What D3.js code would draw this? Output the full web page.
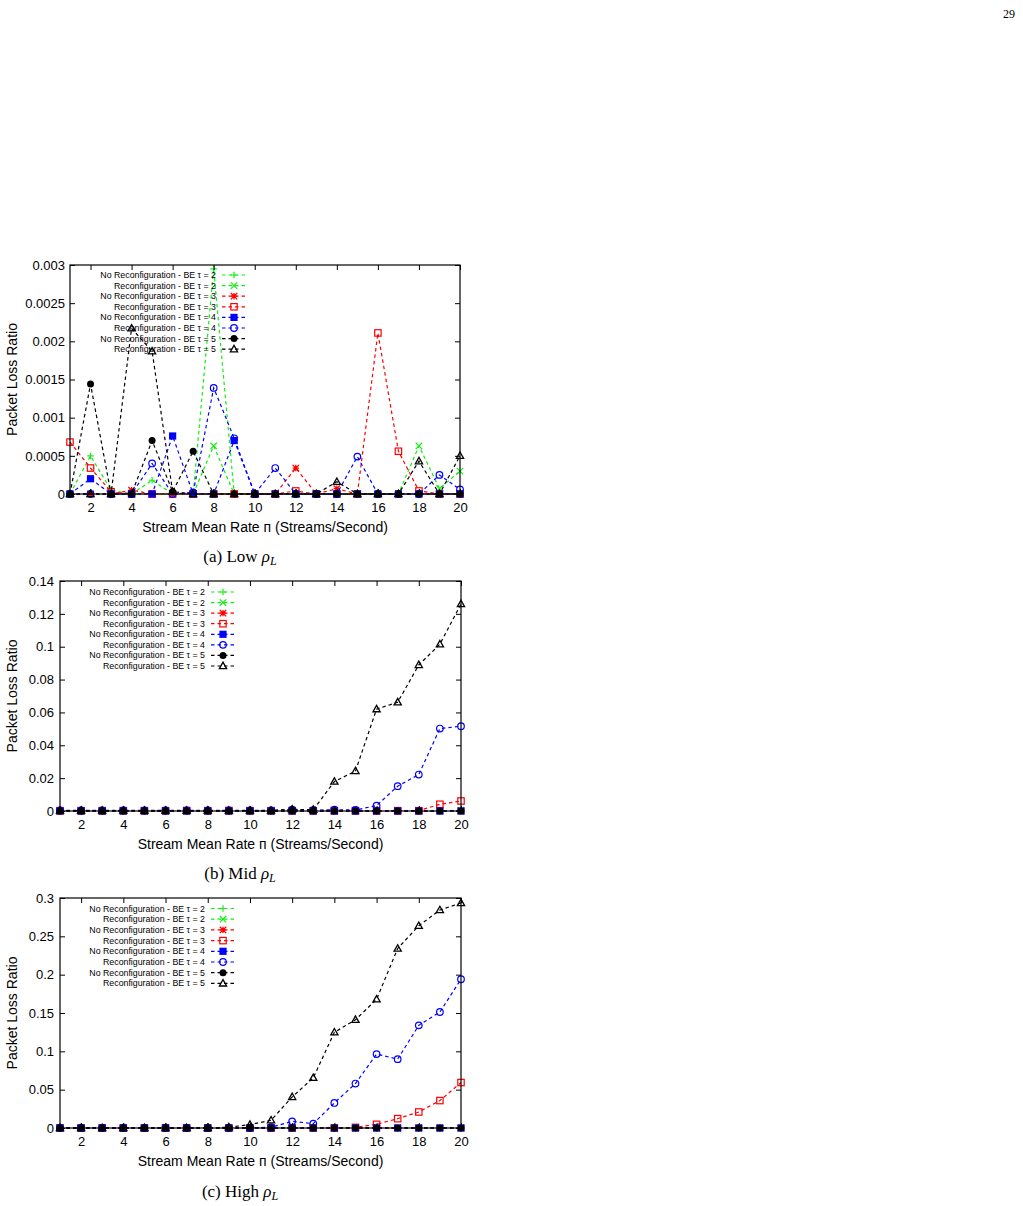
<!DOCTYPE html>
<html><head><meta charset="utf-8">
<script src="https://cdn.jsdelivr.net/npm/d3@7"></script>
<style>body{margin:0;background:#fff}svg{display:block}</style>
</head><body>
<script>
// ---------- DATA ----------
const rates = [1,2,3,4,5,6,7,8,9,10,11,12,13,14,15,16,17,18,19,20];
const xTicks = [2,4,6,8,10,12,14,16,18,20];

const seriesNames = [
  "No Reconfiguration - BE \u03c4 = 2",
  "Reconfiguration - BE \u03c4 = 2",
  "No Reconfiguration - BE \u03c4 = 3",
  "Reconfiguration - BE \u03c4 = 3",
  "No Reconfiguration - BE \u03c4 = 4",
  "Reconfiguration - BE \u03c4 = 4",
  "No Reconfiguration - BE \u03c4 = 5",
  "Reconfiguration - BE \u03c4 = 5"
];

// (a) Low rho_L
const lowNoReconfT2 = [0,0.0005,0.00005,0,0.00018,0,0,0.00295,0,0,0,0,0,0,0,0,0,0,0,0];
const lowReconfT2   = [0,0,0,0,0,0,0,0.00063,0,0,0,0,0,0,0,0,0,0.00063,0.00007,0.0003];
const lowNoReconfT3 = [0,0,0,0.00005,0,0,0,0,0,0,0,0.00034,0,0.00007,0,0,0,0,0,0];
const lowReconfT3   = [0.00068,0.00034,0.00003,0,0,0,0,0,0,0,0,0.00004,0,0,0,0.00211,0.00056,0.00004,0,0];
const lowNoReconfT4 = [0,0.0002,0,0,0,0.00076,0,0,0.0007,0,0,0,0,0,0,0,0,0,0,0];
const lowReconfT4   = [0,0,0,0,0.0004,0,0.00002,0.00139,0.00073,0,0.00034,0,0,0,0.00049,0,0,0,0.00025,0.00006];
const lowNoReconfT5 = [0,0.00144,0,0,0.0007,0.00003,0.00056,0,0,0,0,0,0,0,0,0,0,0,0,0];
const lowReconfT5   = [0,0,0,0.00217,0.00187,0.00003,0,0,0,0,0,0,0,0.00016,0,0,0,0.00043,0,0.0005];
const lowYTicks = [0,0.0005,0.001,0.0015,0.002,0.0025,0.003];
const lowYLabels = ["0","0.0005","0.001","0.0015","0.002","0.0025","0.003"];

// (b) Mid rho_L
const midNoReconfT2 = [0,0,0,0,0,0,0,0,0,0,0,0,0,0,0,0,0,0,0,0];
const midReconfT2   = [0,0,0,0,0,0,0,0,0,0,0,0,0,0,0,0,0,0,0,0.0005];
const midNoReconfT3 = [0,0,0,0,0,0,0,0,0,0,0,0,0,0,0,0,0,0,0,0];
const midReconfT3   = [0.0002,0.0002,0.0002,0.0002,0.0002,0.0002,0.0003,0.0002,0.0003,0.0002,0.0002,0.0002,0.0002,0.0002,0.0002,0.0002,0.0002,0.0002,0.0041,0.0061];
const midNoReconfT4 = [0,0,0,0,0,0,0,0,0,0,0,0,0,0,0,0,0,0,0,0];
const midReconfT4   = [0.0004,0.0004,0.0004,0.0004,0.0004,0.0004,0.0004,0.0004,0.0004,0.0004,0.0004,0.0008,0.0005,0.0008,0.0006,0.0033,0.0151,0.0222,0.0502,0.0516];
const midNoReconfT5 = [0,0,0,0,0,0,0,0,0,0,0,0,0,0,0,0,0,0,0,0];
const midReconfT5   = [0.0003,0.0003,0.0003,0.0003,0.0003,0.0003,0.0003,0.0003,0.0003,0.0003,0.0003,0.001,0.0008,0.0179,0.0243,0.062,0.0662,0.0889,0.1015,0.126];
const midYTicks = [0,0.02,0.04,0.06,0.08,0.1,0.12,0.14];
const midYLabels = ["0","0.02","0.04","0.06","0.08","0.1","0.12","0.14"];

// (c) High rho_L
const highNoReconfT2 = [0,0,0,0,0,0,0,0,0,0,0,0,0,0,0,0,0,0,0,0];
const highReconfT2   = [0,0,0,0,0,0,0,0,0,0,0,0,0,0,0,0,0,0,0,0];
const highNoReconfT3 = [0,0,0,0,0,0,0,0,0,0,0,0,0,0,0,0,0,0,0,0];
const highReconfT3   = [0,0,0,0,0,0,0,0,0,0,0,0,0,0,0.0008,0.0048,0.0122,0.0209,0.0358,0.0593];
const highNoReconfT4 = [0,0,0,0,0,0,0,0,0,0,0,0,0,0,0,0,0,0,0,0];
const highReconfT4   = [0,0,0,0,0,0,0,0,0,0,0.001,0.0087,0.0057,0.0327,0.058,0.0964,0.0898,0.1339,0.1513,0.194];
const highNoReconfT5 = [0,0,0,0,0,0,0,0,0,0,0,0,0,0,0,0,0,0,0,0];
const highReconfT5   = [0,0,0,0,0,0,0,0,0.001,0.0044,0.0101,0.0405,0.0654,0.1248,0.1412,0.1679,0.2341,0.2638,0.2843,0.2935];
const highYTicks = [0,0.05,0.1,0.15,0.2,0.25,0.3];
const highYLabels = ["0","0.05","0.1","0.15","0.2","0.25","0.3"];

const xTitle = "Stream Mean Rate \u043f (Streams/Second)";
const yTitle = "Packet Loss Ratio";

// ---------- STYLE ----------
const styles = [
  {color:"#11ee11", marker:"plus"},
  {color:"#11ee11", marker:"cross"},
  {color:"#ff0000", marker:"star"},
  {color:"#ff0000", marker:"sq"},
  {color:"#0000ff", marker:"sqf"},
  {color:"#0000ff", marker:"circ"},
  {color:"#000000", marker:"circf"},
  {color:"#000000", marker:"tri"}
];

const svg = d3.select("body").append("svg").attr("width",1023).attr("height",1206);
const FONT = "'Liberation Sans', Arial, sans-serif";

svg.append("text").attr("x",1015).attr("y",18).attr("text-anchor","end")
  .attr("font-family","'Liberation Serif', 'Times New Roman', serif").attr("font-size",12).text("29");

function drawMarker(g, type, x, y, color){
  const s = 3.2;
  if (type==="plus"){
    g.append("path").attr("d",`M${x-s},${y}H${x+s}M${x},${y-s}V${y+s}`).attr("stroke",color).attr("fill","none").attr("stroke-width",1.2);
  } else if (type==="cross"){
    g.append("path").attr("d",`M${x-s},${y-s}L${x+s},${y+s}M${x-s},${y+s}L${x+s},${y-s}`).attr("stroke",color).attr("fill","none").attr("stroke-width",1.2);
  } else if (type==="star"){
    g.append("path").attr("d",`M${x-s},${y}H${x+s}M${x},${y-s}V${y+s}M${x-s},${y-s}L${x+s},${y+s}M${x-s},${y+s}L${x+s},${y-s}`).attr("stroke",color).attr("fill","none").attr("stroke-width",1.3);
  } else if (type==="sq"){
    g.append("rect").attr("x",x-3.2).attr("y",y-3.2).attr("width",6.4).attr("height",6.4).attr("stroke",color).attr("fill","none").attr("stroke-width",1.2);
  } else if (type==="sqf"){
    g.append("rect").attr("x",x-3.6).attr("y",y-3.6).attr("width",7.2).attr("height",7.2).attr("fill",color);
  } else if (type==="circ"){
    g.append("circle").attr("cx",x).attr("cy",y).attr("r",3.3).attr("stroke",color).attr("fill","none").attr("stroke-width",1.2);
  } else if (type==="circf"){
    g.append("circle").attr("cx",x).attr("cy",y).attr("r",3.5).attr("fill",color);
  } else if (type==="tri"){
    g.append("path").attr("d",`M${x},${y-3.8}L${x+3.6},${y+2.6}L${x-3.6},${y+2.6}Z`).attr("stroke",color).attr("fill","none").attr("stroke-width",1.3);
  }
}

function drawPanel(p){
  const g = svg.append("g");
  const x = d3.scaleLinear().domain([1,20]).range([p.left,p.right]);
  const y = d3.scaleLinear().domain([0,p.ymax]).range([p.bottom,p.top]);

  const line = d3.line().x((d,i)=>x(rates[i])).y(d=>y(d));
  p.series.forEach((vals,k)=>{
    const st = styles[k];
    g.append("path").datum(vals).attr("d",line).attr("fill","none")
      .attr("stroke",st.color).attr("stroke-width",1.2).attr("stroke-dasharray","3.5,3");
    vals.forEach((v,i)=>drawMarker(g, st.marker, x(rates[i]), y(v), st.color));
  });

  g.append("rect").attr("x",p.left).attr("y",p.top).attr("width",p.right-p.left).attr("height",p.bottom-p.top)
    .attr("fill","none").attr("stroke","#000").attr("stroke-width",1.2);

  const tl = 5;
  const bottomAxis = d3.axisBottom(x).tickValues(xTicks).tickSize(-tl).tickPadding(9).tickFormat(d3.format("d"));
  const topAxis = d3.axisTop(x).tickValues(xTicks).tickSize(-tl).tickFormat("");
  const leftAxis = d3.axisLeft(y).tickValues(p.yTicks).tickSize(-tl).tickPadding(p.ypad).tickFormat((d,i)=>p.yLabels[i]);
  const rightAxis = d3.axisRight(y).tickValues(p.yTicks).tickSize(-tl).tickFormat("");
  [[bottomAxis,`translate(0,${p.bottom})`],[topAxis,`translate(0,${p.top})`],
   [leftAxis,`translate(${p.left},0)`],[rightAxis,`translate(${p.right},0)`]].forEach(([ax,tr])=>{
    const a = g.append("g").attr("transform",tr).call(ax);
    a.select(".domain").remove();
    a.selectAll("text").attr("font-family",FONT).attr("font-size",13).attr("fill","#000");
    a.selectAll("line").attr("stroke","#000");
  });

  g.append("text").attr("x",(p.left+p.right)/2).attr("y",p.bottom+38).attr("text-anchor","middle")
    .attr("font-family",FONT).attr("font-size",14).text(xTitle);
  g.append("text").attr("transform",`translate(17,${(p.top+p.bottom)/2}) rotate(-90)`).attr("text-anchor","middle")
    .attr("font-family",FONT).attr("font-size",14).text(yTitle);

  seriesNames.forEach((name,k)=>{
    const ry = p.legY + k*p.legDy;
    const st = styles[k];
    g.append("text").attr("x",p.legX).attr("y",ry+3).attr("text-anchor","end")
      .attr("font-family",FONT).attr("font-size",8.8).text(name);
    g.append("line").attr("x1",p.legX+6).attr("x2",p.legX+31).attr("y1",ry).attr("y2",ry)
      .attr("stroke",st.color).attr("stroke-width",1.2).attr("stroke-dasharray","3.5,3");
    drawMarker(g, st.marker, p.legX+18, ry, st.color);
  });

  const cap = g.append("text").attr("x",p.capX).attr("y",p.capY).attr("text-anchor","middle")
    .attr("font-family","'Liberation Serif', 'Times New Roman', serif").attr("font-size",17);
  cap.append("tspan").text(p.caption + " ");
  cap.append("tspan").attr("font-style","italic").text("\u03c1");
  cap.append("tspan").attr("font-style","italic").attr("font-size",12).attr("dy",3).text("L");
}

drawPanel({left:70,right:460,top:265,bottom:494,ymax:0.003,yTicks:lowYTicks,yLabels:lowYLabels,ypad:5,
  series:[lowNoReconfT2,lowReconfT2,lowNoReconfT3,lowReconfT3,lowNoReconfT4,lowReconfT4,lowNoReconfT5,lowReconfT5],
  legX:216,legY:275,legDy:10.6,caption:"(a) Low",capX:240,capY:562});
drawPanel({left:60,right:461,top:581,bottom:811,ymax:0.14,yTicks:midYTicks,yLabels:midYLabels,ypad:6,
  series:[midNoReconfT2,midReconfT2,midNoReconfT3,midReconfT3,midNoReconfT4,midReconfT4,midNoReconfT5,midReconfT5],
  legX:205,legY:592,legDy:10.57,caption:"(b) Mid",capX:240,capY:879});
drawPanel({left:60,right:461,top:898,bottom:1128,ymax:0.3,yTicks:highYTicks,yLabels:highYLabels,ypad:6,
  series:[highNoReconfT2,highReconfT2,highNoReconfT3,highReconfT3,highNoReconfT4,highReconfT4,highNoReconfT5,highReconfT5],
  legX:205,legY:908.5,legDy:10.7,caption:"(c) High",capX:240,capY:1197});
</script>
</body></html>
